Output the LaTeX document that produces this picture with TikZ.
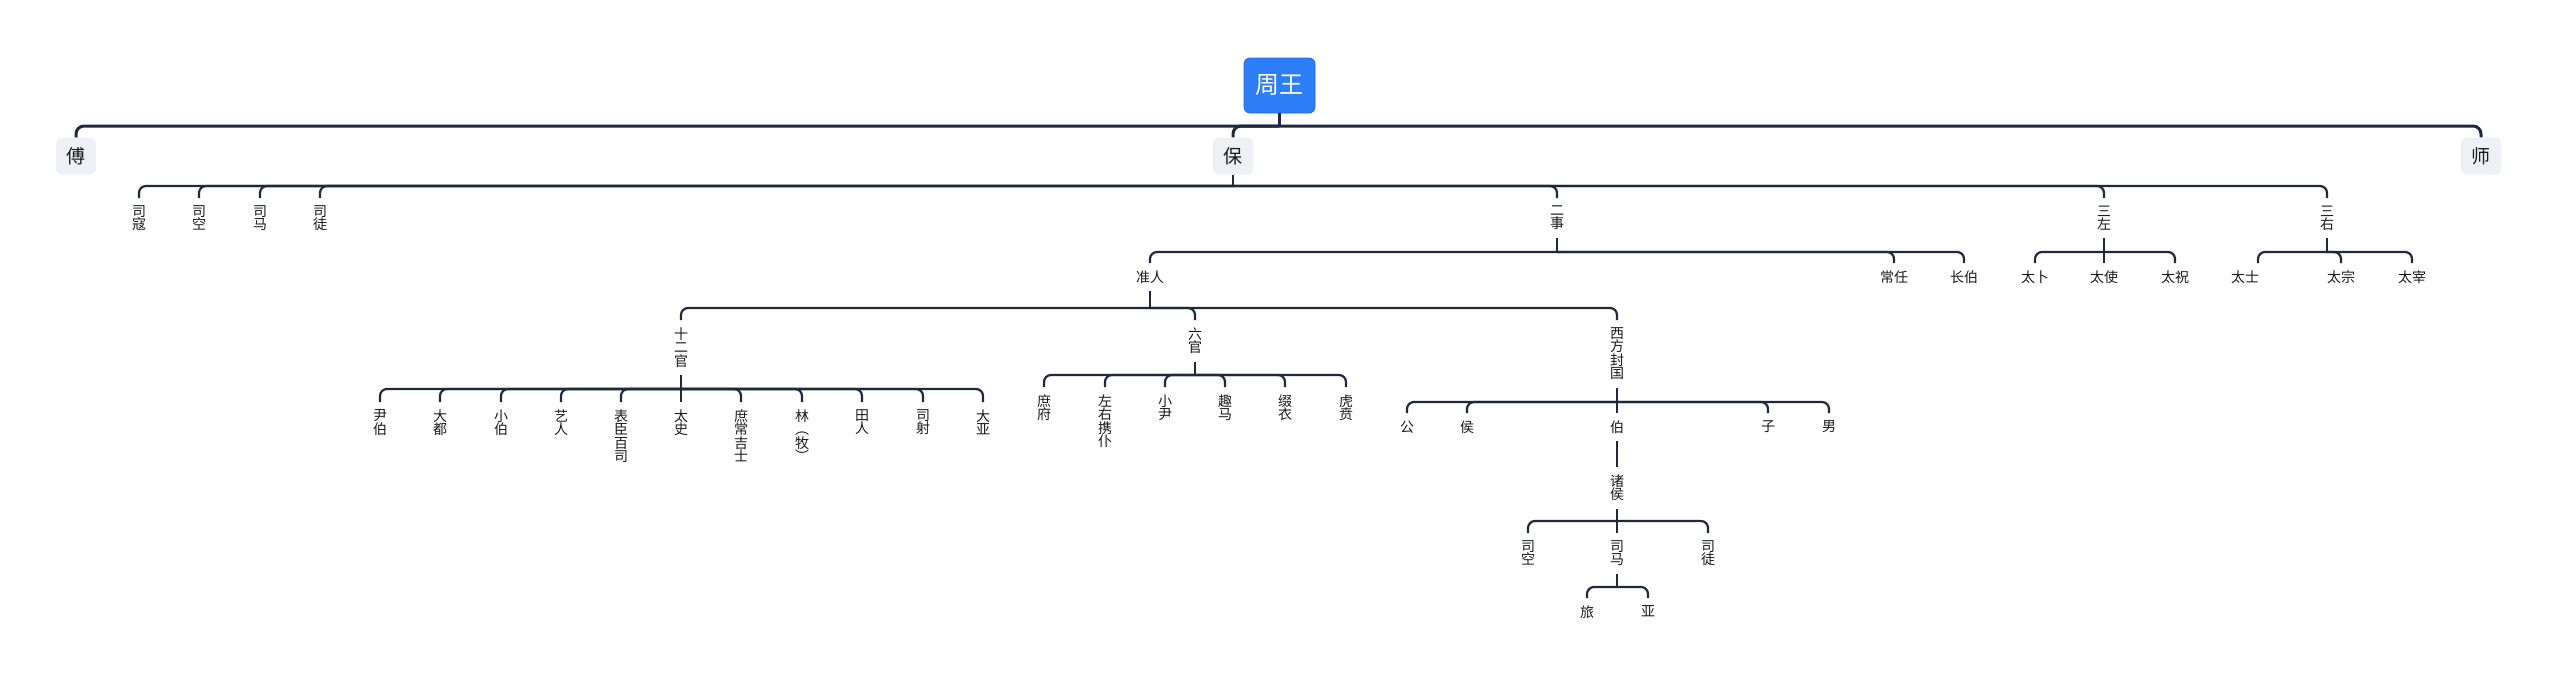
\documentclass[tikz,border=0pt]{standalone}
\usepackage{fontspec}
\newfontfamily\cjk{Noto Sans CJK SC}
\definecolor{linkcol}{RGB}{30,41,59}
\definecolor{rootblue}{RGB}{45,125,246}
\definecolor{rootedge}{RGB}{35,105,225}
\definecolor{boxgray}{RGB}{237,240,244}
\definecolor{txt}{RGB}{25,25,25}
\tikzset{
  rootbox/.style={fill=rootblue, draw=rootedge, line width=0.8pt, rounded corners=6pt,
    minimum width=71pt, minimum height=55pt, inner sep=0pt, text=white,
    font=\cjk\fontsize{24}{28}\selectfont},
  topbox/.style={fill=boxgray, rounded corners=6pt, minimum width=40pt, minimum height=37pt,
    inner sep=0pt, text=txt, font=\cjk\fontsize{19}{22}\selectfont},
  lbl/.style={anchor=north, align=center, inner xsep=1pt, inner ysep=7.5pt, text=txt,
    font=\cjk\fontsize{14}{13.4}\selectfont},
  link/.style={draw=linkcol, line width=2.2pt, rounded corners=7pt},
  rootlink/.style={draw=linkcol, line width=3pt, rounded corners=8pt}
}
\begin{document}
\begin{tikzpicture}[x=1pt,y=-1pt]
\useasboundingbox (0,0) rectangle (2560,686);
% root
\node[rootbox] (zw) at (1279.5,85.5) {周王};
\coordinate (b-zw) at (1279.5,126);
\node[topbox] (fu) at (76,156) {傅};
\node[topbox] (bao) at (1233,156) {保};
\node[topbox] (shi) at (2481,156) {师};
\draw[rootlink] (zw.south) -- (b-zw);
\foreach \c in {fu,bao,shi} \draw[rootlink] (b-zw) -| (\c.north);
% level 2 under 保
\coordinate (b-bao) at (1233,186);
\node[lbl] (sk) at (139,198) {司\\寇};
\node[lbl] (skg) at (199,198) {司\\空};
\node[lbl] (sm) at (260,198) {司\\马};
\node[lbl] (st) at (320,198) {司\\徒};
\node[lbl] (ers) at (1557,198) {二\\事};
\node[lbl] (sz) at (2104,198) {三\\左};
\node[lbl] (sy) at (2327,198) {三\\右};
\draw[link] (bao.south) -- (b-bao);
\foreach \c in {sk,skg,sm,st,ers,sz,sy} \draw[link] (b-bao) -| (\c.north);
% under 二事
\coordinate (b-ers) at (1557,252);
\node[lbl] (zr) at (1150,263) {准人};
\node[lbl] (cr) at (1894,263) {常任};
\node[lbl] (cb) at (1964,263) {长伯};
\draw[link] (ers.south) -- (b-ers);
\foreach \c in {zr,cr,cb} \draw[link] (b-ers) -| (\c.north);
% under 三左
\coordinate (b-sz) at (2104,252);
\node[lbl] (tb) at (2035,263) {太卜};
\node[lbl] (tsh) at (2104,263) {太使};
\node[lbl] (tz) at (2175,263) {太祝};
\draw[link] (sz.south) -- (b-sz);
\foreach \c in {tb,tsh,tz} \draw[link] (b-sz) -| (\c.north);
% under 三右
\coordinate (b-sy) at (2327,252);
\node[lbl] (tsi) at (2245,263) {太士};
\node[lbl] (tzo) at (2341,263) {太宗};
\node[lbl] (tzi) at (2412,263) {太宰};
\draw[link] (sy.south) -- (b-sy);
\draw[link] (b-sy) -| ([xshift=13pt]tsi.north);
\foreach \c in {tzo,tzi} \draw[link] (b-sy) -| (\c.north);
% under 准人
\coordinate (b-zr) at (1150,308);
\node[lbl] (seg) at (681,320) {十\\二\\官};
\node[lbl] (lg) at (1195,320) {六\\官};
\node[lbl] (xf) at (1617,320) {西\\方\\封\\国};
\draw[link] (zr.south) -- (b-zr);
\foreach \c in {seg,lg,xf} \draw[link] (b-zr) -| (\c.north);
% under 十二官
\coordinate (b-seg) at (681,389);
\node[lbl] (a1) at (380,402) {尹\\伯};
\node[lbl] (a2) at (440,402) {大\\都};
\node[lbl] (a3) at (501,402) {小\\伯};
\node[lbl] (a4) at (561,402) {艺\\人};
\node[lbl] (a5) at (621,402) {表\\臣\\百\\司};
\node[lbl] (a6) at (681,402) {太\\史};
\node[lbl] (a7) at (741,402) {庶\\常\\吉\\士};
\node[lbl] (a8) at (802,402) {林\\︵\\牧\\︶};
\node[lbl] (a9) at (862,402) {田\\人};
\node[lbl] (a10) at (923,402) {司\\射};
\node[lbl] (a11) at (983,402) {大\\亚};
\draw[link] (seg.south) -- (b-seg);
\foreach \c in {a1,a2,a3,a4,a5,a6,a7,a8,a9,a10,a11} \draw[link] (b-seg) -| (\c.north);
% under 六官
\coordinate (b-lg) at (1195,375);
\node[lbl] (c1) at (1044,387) {庶\\府};
\node[lbl] (c2) at (1105,387) {左\\右\\携\\仆};
\node[lbl] (c3) at (1165,387) {小\\尹};
\node[lbl] (c4) at (1225,387) {趣\\马};
\node[lbl] (c5) at (1285,387) {缀\\衣};
\node[lbl] (c6) at (1346,387) {虎\\贲};
\draw[link] (lg.south) -- (b-lg);
\foreach \c in {c1,c2,c3,c4,c5,c6} \draw[link] (b-lg) -| (\c.north);
% under 西方封国
\coordinate (b-xf) at (1617,402);
\node[lbl] (gong) at (1407,413) {公};
\node[lbl] (hou) at (1467,413) {侯};
\node[lbl] (bo) at (1617,413) {伯};
\node[lbl] (zi) at (1768,413) {子};
\node[lbl] (nan) at (1829,413) {男};
\draw[link] (xf.south) -- (b-xf);
\foreach \c in {gong,hou,bo,zi,nan} \draw[link] (b-xf) -| (\c.north);
% 伯 -> 诸侯
\node[lbl] (zh) at (1617,467) {诸\\侯};
\draw[link] (bo.south) -- (zh.north);
% under 诸侯
\coordinate (b-zh) at (1617,521);
\node[lbl] (d1) at (1528,533) {司\\空};
\node[lbl] (d2) at (1617,533) {司\\马};
\node[lbl] (d3) at (1708,533) {司\\徒};
\draw[link] (zh.south) -- (b-zh);
\foreach \c in {d1,d2,d3} \draw[link] (b-zh) -| (\c.north);
% under 司马
\coordinate (b-d2) at (1617,587);
\node[lbl] (lv) at (1587,598) {旅};
\node[lbl] (ya) at (1648,598) {亚};
\draw[link] (d2.south) -- (b-d2);
\foreach \c in {lv,ya} \draw[link] (b-d2) -| (\c.north);
\end{tikzpicture}
\end{document}
